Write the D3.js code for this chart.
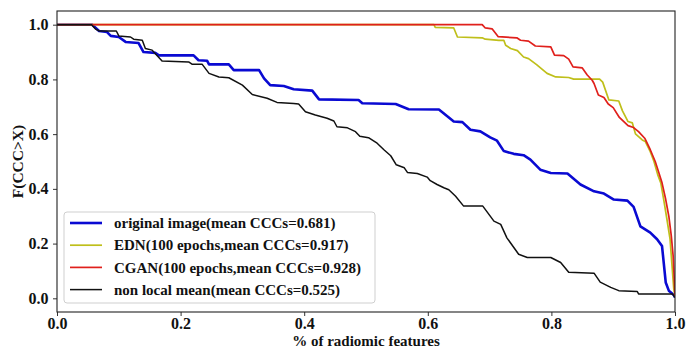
<!DOCTYPE html>
<html>
<head>
<meta charset="utf-8">
<script src="https://cdn.jsdelivr.net/npm/d3@7"></script>
<style>
  body { margin: 0; background: #fff; }
  svg text { font-family: "Times New Roman", "Liberation Serif", Times, "DejaVu Serif", serif !important; font-weight: bold; fill: #111; }
</style>
</head>
<body>
<div class="chart"></div>
<script>
// sorted CCC curves
const origX = [0, 0.057, 0.068, 0.081, 0.087, 0.100, 0.111, 0.132, 0.140, 0.159, 0.165, 0.221, 0.229, 0.243, 0.246, 0.278, 0.286, 0.327, 0.335, 0.345, 0.367, 0.383, 0.413, 0.424, 0.488, 0.494, 0.548, 0.561, 0.569, 0.618, 0.629, 0.642, 0.656, 0.669, 0.685, 0.701, 0.712, 0.723, 0.739, 0.755, 0.766, 0.782, 0.799, 0.826, 0.847, 0.869, 0.885, 0.901, 0.923, 0.933, 0.944, 0.960, 0.971, 0.979, 0.985, 0.990, 0.998, 1.0];
const origY = [1.0, 1.0, 0.977, 0.973, 0.959, 0.955, 0.937, 0.933, 0.900, 0.897, 0.888, 0.888, 0.870, 0.868, 0.855, 0.855, 0.834, 0.834, 0.804, 0.779, 0.776, 0.764, 0.759, 0.727, 0.725, 0.713, 0.710, 0.698, 0.691, 0.690, 0.670, 0.646, 0.644, 0.616, 0.610, 0.588, 0.576, 0.538, 0.528, 0.523, 0.507, 0.470, 0.458, 0.456, 0.416, 0.391, 0.383, 0.361, 0.357, 0.334, 0.263, 0.240, 0.216, 0.191, 0.058, 0.028, 0.012, 0.003];

const ednX = [0, 0.610, 0.612, 0.642, 0.648, 0.688, 0.693, 0.715, 0.723, 0.726, 0.734, 0.745, 0.755, 0.763, 0.776, 0.793, 0.807, 0.828, 0.836, 0.878, 0.883, 0.893, 0.909, 0.915, 0.924, 0.931, 0.936, 0.947, 0.952, 0.960, 0.966, 0.972, 0.977, 0.982, 0.987, 0.992, 0.995, 0.998, 1.0];
const ednY = [1.0, 1.0, 0.990, 0.988, 0.955, 0.952, 0.947, 0.943, 0.943, 0.925, 0.913, 0.905, 0.882, 0.876, 0.854, 0.822, 0.809, 0.807, 0.801, 0.801, 0.790, 0.725, 0.721, 0.685, 0.646, 0.641, 0.601, 0.579, 0.573, 0.536, 0.500, 0.452, 0.422, 0.357, 0.288, 0.216, 0.125, 0.034, 0.008];

const cganX = [0, 0.688, 0.693, 0.704, 0.714, 0.744, 0.750, 0.763, 0.774, 0.799, 0.805, 0.820, 0.828, 0.835, 0.850, 0.858, 0.866, 0.869, 0.876, 0.885, 0.892, 0.900, 0.910, 0.924, 0.933, 0.941, 0.951, 0.960, 0.968, 0.974, 0.979, 0.985, 0.990, 0.994, 0.997, 0.999, 1.0];
const cganY = [1.0, 1.0, 0.988, 0.985, 0.956, 0.952, 0.943, 0.940, 0.922, 0.919, 0.889, 0.887, 0.874, 0.846, 0.842, 0.816, 0.797, 0.785, 0.743, 0.734, 0.710, 0.697, 0.661, 0.631, 0.624, 0.609, 0.585, 0.543, 0.500, 0.458, 0.422, 0.361, 0.300, 0.228, 0.155, 0.058, 0.008];

const nlmX = [0, 0.056, 0.062, 0.068, 0.096, 0.100, 0.119, 0.124, 0.138, 0.143, 0.154, 0.170, 0.213, 0.219, 0.235, 0.246, 0.262, 0.278, 0.300, 0.316, 0.340, 0.356, 0.383, 0.391, 0.402, 0.418, 0.437, 0.448, 0.453, 0.470, 0.483, 0.490, 0.504, 0.518, 0.529, 0.540, 0.549, 0.562, 0.567, 0.583, 0.599, 0.604, 0.615, 0.626, 0.634, 0.645, 0.658, 0.689, 0.707, 0.718, 0.728, 0.747, 0.761, 0.799, 0.815, 0.828, 0.869, 0.879, 0.896, 0.909, 0.939, 0.941, 0.996, 1.0];
const nlmY = [1.0, 1.0, 0.985, 0.977, 0.977, 0.959, 0.955, 0.947, 0.943, 0.913, 0.907, 0.867, 0.864, 0.855, 0.855, 0.822, 0.809, 0.806, 0.779, 0.745, 0.731, 0.716, 0.712, 0.710, 0.682, 0.670, 0.658, 0.648, 0.627, 0.623, 0.609, 0.592, 0.587, 0.567, 0.543, 0.521, 0.488, 0.477, 0.460, 0.456, 0.443, 0.430, 0.416, 0.404, 0.397, 0.373, 0.337, 0.337, 0.282, 0.270, 0.221, 0.161, 0.149, 0.149, 0.131, 0.095, 0.092, 0.059, 0.040, 0.028, 0.025, 0.016, 0.016, 0.003];

const seriesNames = ['original image(mean CCCs=0.681)', 'EDN(100 epochs,mean CCCs=0.917)', 'CGAN(100 epochs,mean CCCs=0.928)', 'non local mean(mean CCCs=0.525)'];
const seriesColors = ['#0a0ad2', '#bfbf1a', '#e0201c', '#111111'];
const xTicks = [0, 0.2, 0.4, 0.6, 0.8, 1.0];
const yTicks = [0, 0.2, 0.4, 0.6, 0.8, 1.0];

const svg_width = 686;
const svg_height = 351;
const margin = {top: 11, right: 11, bottom: 39, left: 57};
const chart_width = svg_width - margin.left - margin.right;
const chart_height = svg_height - margin.top - margin.bottom;
const serif = '"Times New Roman", "Liberation Serif", Times, "DejaVu Serif", serif';

const svg = d3.select('.chart').append('svg')
  .attr('width', svg_width)
  .attr('height', svg_height)
  .attr('font-family', serif);

const g = svg.append('g').attr('transform', `translate(${margin.left},${margin.top})`);

const xScale = d3.scaleLinear().domain([0, 1]).range([0, chart_width]);
const yScale = d3.scaleLinear().domain([-0.05, 1.05]).range([chart_height, 0]);

g.append('clipPath').attr('id', 'plot-clip')
  .append('rect').attr('width', chart_width).attr('height', chart_height);

const series = [
  {x: origX, y: origY, width: 2.6},
  {x: ednX, y: ednY, width: 1.7},
  {x: cganX, y: cganY, width: 1.7},
  {x: nlmX, y: nlmY, width: 1.5}
];

const line = d3.line().x(d => xScale(d[0])).y(d => yScale(d[1]));

g.append('g').attr('clip-path', 'url(#plot-clip)')
  .selectAll('path')
  .data(series)
  .enter()
  .append('path')
  .attr('d', d => line(d3.zip(d.x, d.y)))
  .attr('fill', 'none')
  .attr('stroke', (d, i) => seriesColors[i])
  .attr('stroke-width', d => d.width)
  .attr('stroke-linejoin', 'round');

// axes
const xAxis = d3.axisBottom(xScale).tickValues(xTicks).tickFormat(d3.format('.1f')).tickSizeInner(4).tickSizeOuter(0);
const yAxis = d3.axisLeft(yScale).tickValues(yTicks).tickFormat(d3.format('.1f')).tickSizeInner(4).tickSizeOuter(0);

const xAxisDraw = g.append('g').attr('transform', `translate(0,${chart_height})`).call(xAxis);
const yAxisDraw = g.append('g').call(yAxis);

[xAxisDraw, yAxisDraw].forEach(a => {
  a.attr('font-family', serif);
  a.select('.domain').remove();
  a.selectAll('line').attr('stroke', '#333');
  a.selectAll('text').style('font-size', '16px');
});
xAxisDraw.selectAll('text').attr('dy', '0.6em');
yAxisDraw.selectAll('text').attr('dx', '-0.1em');

// frame
g.append('rect')
  .attr('width', chart_width).attr('height', chart_height)
  .attr('fill', 'none').attr('stroke', '#222').attr('stroke-width', 1.1);

// axis titles
svg.append('text')
  .attr('x', margin.left + chart_width / 2)
  .attr('y', 346)
  .attr('text-anchor', 'middle')
  .style('font-size', '15px')
  .text('% of radiomic features');

svg.append('text')
  .attr('transform', `translate(23,${margin.top + chart_height / 2}) rotate(-90)`)
  .attr('text-anchor', 'middle')
  .style('font-size', '15.5px')
  .text('F(CCC>X)');

// legend
const legend = g.append('g').attr('transform', 'translate(7,201)');
legend.append('rect')
  .attr('width', 311).attr('height', 91)
  .attr('rx', 3)
  .attr('fill', '#fff').attr('fill-opacity', 0.85)
  .attr('stroke', '#cfcfcf');

const items = legend.selectAll('.item')
  .data(seriesNames)
  .enter()
  .append('g')
  .attr('class', 'item')
  .attr('transform', (d, i) => `translate(0,${11 + i * 22.2})`);

items.append('line')
  .attr('x1', 6).attr('x2', 38)
  .attr('stroke', (d, i) => seriesColors[i])
  .attr('stroke-width', (d, i) => series[i].width);

items.append('text')
  .attr('x', 50)
  .attr('dy', '0.35em')
  .style('font-size', '15px')
  .text(d => d);
</script>
</body>
</html>
